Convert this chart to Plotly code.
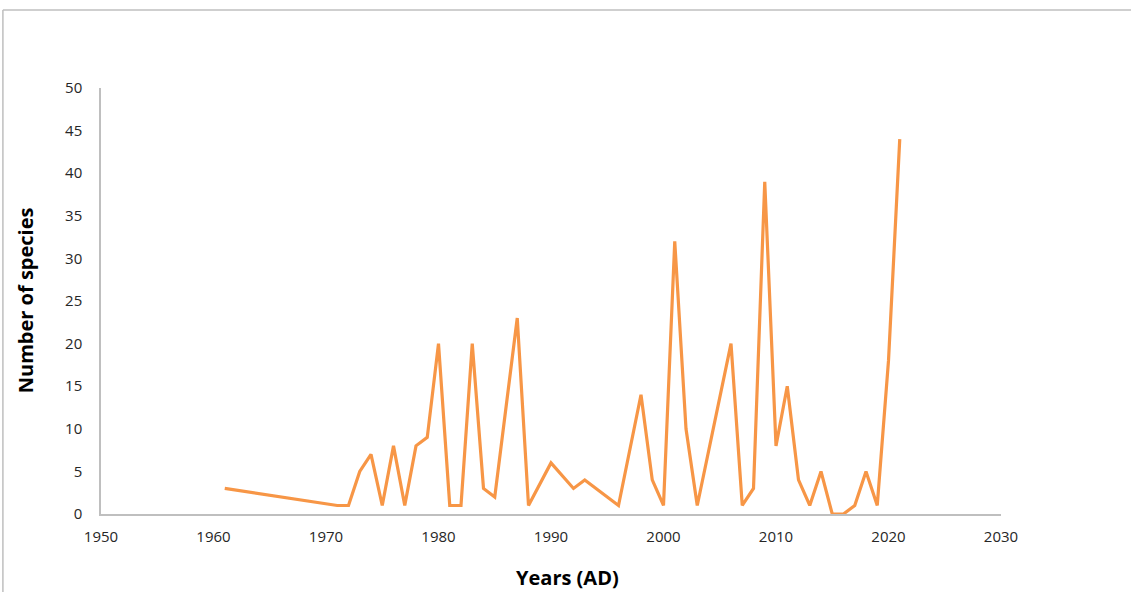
import plotly.graph_objects as go

years = [1961, 1971, 1972, 1973, 1974, 1975, 1976, 1977, 1978, 1979, 1980, 1981,
         1982, 1983, 1984, 1985, 1987, 1988, 1990, 1992, 1993, 1996, 1998, 1999,
         2000, 2001, 2002, 2003, 2006, 2007, 2008, 2009, 2010, 2011, 2012, 2013,
         2014, 2015, 2016, 2017, 2018, 2019, 2020, 2021]
species = [3, 1, 1, 5, 7, 1, 8, 1, 8, 9, 20, 1,
           1, 20, 3, 2, 23, 1, 6, 3, 4, 1, 14, 4,
           1, 32, 10, 1, 20, 1, 3, 39, 8, 15, 4, 1,
           5, 0, 0, 1, 5, 1, 18, 44]

x_ticks = [1950, 1960, 1970, 1980, 1990, 2000, 2010, 2020, 2030]
y_ticks = [0, 5, 10, 15, 20, 25, 30, 35, 40, 45, 50]

FONT = "Open Sans"
TXT = "#262626"

fig = go.Figure()
fig.add_trace(go.Scatter(
    x=years, y=species, mode="lines",
    line=dict(color="#F79646", width=3.2),
    showlegend=False, cliponaxis=False, hoverinfo="skip",
))

fig.update_layout(
    width=1131, height=592,
    margin=dict(l=101, r=130, t=88, b=78),
    paper_bgcolor="white", plot_bgcolor="white",
    font=dict(family=FONT, size=15, color=TXT),
    xaxis=dict(
        range=[1950, 2030], tickvals=x_ticks, showgrid=False, zeroline=False,
        showline=True, linecolor="#BFBFBF", linewidth=2,
        ticks="", ticklabelstandoff=8,
        tickfont=dict(family=FONT, size=15, color=TXT),
    ),
    yaxis=dict(
        range=[0, 50], tickvals=y_ticks, showgrid=False, zeroline=False,
        showline=True, linecolor="#BFBFBF", linewidth=1.5,
        ticks="", ticklabelstandoff=14,
        tickfont=dict(family=FONT, size=15, color=TXT),
    ),
    annotations=[
        dict(text="<b>Years (AD)</b>", xref="paper", yref="paper",
             x=0.518, y=-0.150, showarrow=False,
             font=dict(family=FONT, size=20, color="black"),
             xanchor="center", yanchor="middle"),
        dict(text="<b>Number of species</b>", xref="paper", yref="paper",
             x=-0.0844, y=0.502, showarrow=False, textangle=-90,
             font=dict(family=FONT, size=20, color="black"),
             xanchor="center", yanchor="middle"),
    ],
    shapes=[
        dict(type="line", xref="paper", yref="paper",
             x0=-0.109, x1=1.2, y0=1.183, y1=1.183,
             line=dict(color="#BFBFBF", width=1.5)),
        dict(type="line", xref="paper", yref="paper",
             x0=-0.109, x1=-0.109, y0=1.183, y1=-0.3,
             line=dict(color="#BFBFBF", width=1.5)),
    ],
)

fig.write_html("out.html",
               config={"displayModeBar": False},
               post_script="document.body.style.margin='0';document.body.style.overflow='hidden';")
